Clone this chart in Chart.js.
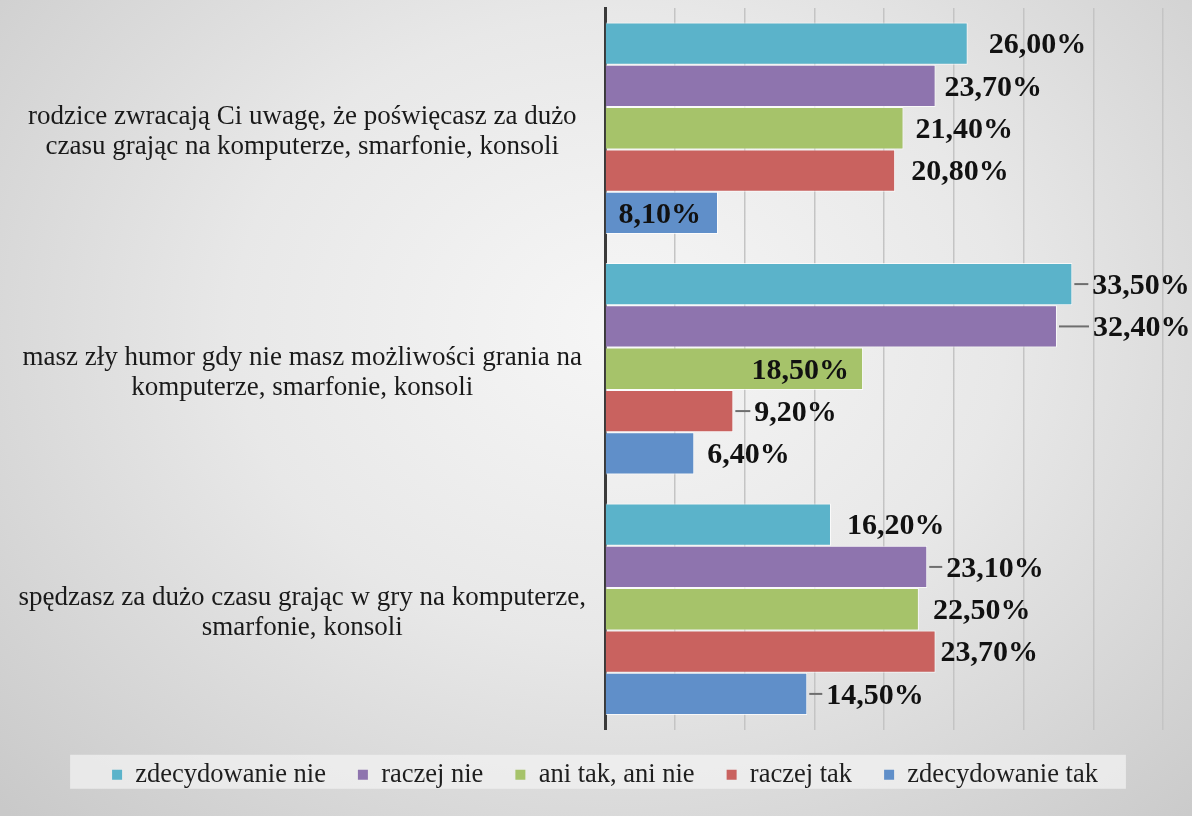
<!DOCTYPE html>
<html>
<head>
<meta charset="utf-8">
<script src="https://cdn.jsdelivr.net/npm/chart.js@4.4.1/dist/chart.umd.min.js"></script>
<style>
  html, body { margin: 0; padding: 0; }
  body {
    width: 1192px;
    height: 816px;
    overflow: hidden;
    background: radial-gradient(ellipse 72% 85% at 52% 40%, #f6f6f6 0%, #e8e8e8 45%, #c9c9c9 100%);
  }
  canvas { display: block; }
</style>
</head>
<body>
<canvas id="chart" width="1192" height="816"></canvas>
<script>
const categories = [
  ['rodzice zwracają Ci uwagę, że poświęcasz za dużo', 'czasu grając na komputerze, smarfonie, konsoli'],
  ['masz zły humor gdy nie masz możliwości grania na', 'komputerze, smarfonie, konsoli'],
  ['spędzasz za dużo czasu grając w gry na komputerze,', 'smarfonie, konsoli']
];
const seriesNames = ['zdecydowanie nie', 'raczej nie', 'ani tak, ani nie', 'raczej tak', 'zdecydowanie tak'];
const zdecydowanieNie = [26.0, 33.5, 16.2];
const raczejNie = [23.7, 32.4, 23.1];
const aniTakAniNie = [21.4, 18.5, 22.5];
const raczejTak = [20.8, 9.2, 23.7];
const zdecydowanieTak = [8.1, 6.4, 14.5];
const xMin = 0, xMax = 40, xStep = 5;

const seriesValues = [zdecydowanieNie, raczejNie, aniTakAniNie, raczejTak, zdecydowanieTak];
const colors = ['#5bb3ca', '#8e74ae', '#a6c36a', '#c9625f', '#608fc9'];

// label placement: px from bar end (negative = inside the bar) and leader line on/off
const labelGap = [[21, 20, 16], [9, 36, 19], [12, -14, 14], [16, 21, 5], [-17, 13, 19]];
const leader = [[0, 1, 0], [0, 1, 1], [0, 0, 0], [0, 1, 0], [0, 0, 1]];

const fmt = v => v.toFixed(2).replace('.', ',') + '%';

const valueLabels = {
  id: 'valueLabels',
  afterDatasetsDraw(chart) {
    const ctx = chart.ctx;
    ctx.save();
    ctx.font = 'bold 30px "Liberation Serif"';
    ctx.textBaseline = 'middle';
    chart.data.datasets.forEach((ds, i) => {
      chart.getDatasetMeta(i).data.forEach((bar, j) => {
        const gap = labelGap[i][j];
        const x = bar.x + gap;
        if (leader[i][j]) {
          ctx.strokeStyle = '#6e6e6e';
          ctx.lineWidth = 2;
          ctx.beginPath();
          ctx.moveTo(bar.x + 2, bar.y);
          ctx.lineTo(x - 4, bar.y);
          ctx.stroke();
        }
        ctx.textAlign = gap < 0 ? 'right' : 'left';
        ctx.fillStyle = '#111111';
        ctx.fillText(fmt(ds.data[j]), x, bar.y + 2);
      });
    });
    ctx.restore();
  }
};

// shift the legend block a bit right (centred under the plot like the original)
// and paint the light band behind its items
const legendBox = {
  id: 'legendBox',
  afterLayout(chart) {
    const lg = chart.legend;
    if (!lg) return;
    lg.left += 47;
    lg.width = lg.right - lg.left;
  },
  beforeDraw(chart) {
    const lg = chart.legend;
    if (!lg || !lg.lineWidths) return;
    const lo = lg.options.labels;
    const pad = lo.padding;
    const startX = (lg.left + pad + lg.right - lg.lineWidths[0]) / 2;
    const cy = lg.top + pad + lo.font.size / 2;
    const ctx = chart.ctx;
    ctx.save();
    ctx.fillStyle = 'rgba(242,242,242,0.75)';
    ctx.fillRect(startX - 42, cy - 20, lg.lineWidths[0] - pad + 70, 34);
    ctx.restore();
  }
};

new Chart(document.getElementById('chart'), {
  type: 'bar',
  data: {
    labels: categories,
    datasets: seriesNames.map((name, i) => ({
      label: name,
      data: seriesValues[i],
      backgroundColor: colors[i],
      borderColor: 'rgba(255,255,255,0.75)',
      borderWidth: 1,
      barPercentage: 1.0,
      categoryPercentage: 0.88
    }))
  },
  options: {
    indexAxis: 'y',
    responsive: false,
    animation: false,
    devicePixelRatio: 1,
    layout: { padding: { top: 8, right: 29, bottom: 18, left: 0 } },
    plugins: {
      tooltip: { enabled: false },
      legend: {
        position: 'bottom',
        labels: {
          color: '#1e1e1e',
          font: { family: 'Liberation Serif', size: 26.5 },
          boxWidth: 10,
          boxHeight: 10,
          padding: 32,
          generateLabels(chart) {
            const items = Chart.defaults.plugins.legend.labels.generateLabels(chart);
            items.forEach(it => { it.lineWidth = 0; });
            return items;
          }
        }
      }
    },
    scales: {
      x: {
        min: xMin,
        max: xMax,
        ticks: { display: false, stepSize: xStep },
        grid: { color: '#c4c4c4', lineWidth: 1.5, drawTicks: false },
        border: { display: false }
      },
      y: {
        z: 1,
        afterFit(scale) {
          scale.width = 605;
          scale.paddingTop = 0;
          scale.paddingBottom = 0;
        },
        grid: { display: false },
        border: { display: true, color: '#3a3a3a', width: 3 },
        ticks: {
          color: '#1a1a1a',
          crossAlign: 'center',
          padding: 11,
          labelOffset: 4,
          font: { family: 'Liberation Serif', size: 27, lineHeight: 1.12 }
        }
      }
    }
  },
  plugins: [legendBox, valueLabels]
});
</script>
</body>
</html>
